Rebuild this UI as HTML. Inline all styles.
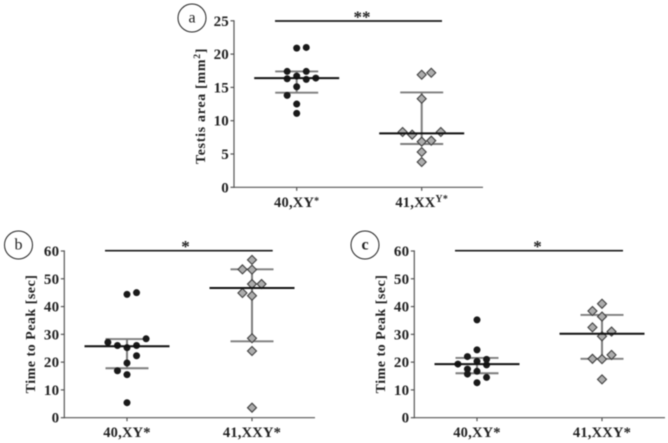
<!DOCTYPE html>
<html>
<head>
<meta charset="utf-8">
<style>
html,body{margin:0;padding:0;background:#fff;}
svg{display:block;font-family:"Liberation Serif",serif;}
</style>
</head>
<body>
<svg id="figure" xmlns="http://www.w3.org/2000/svg" width="668" height="443" viewBox="0 0 668 443">
<g style="filter:blur(0.45px)" id="root"></g>
</svg>
<script>
// Panel a data
const aTicks = [0, 5, 10, 15, 20, 25];
const aControlValues = [20.9, 21, 17.4, 17.4, 16.3, 16.7, 16.2, 16.4, 15.1, 13.8, 12.5, 11.1];
const aControlColumns = [0, 1, -1, 1, -1, 0, 1, 2, 0, -1, 0, 0];
const aControlStats = [14.2, 16.4, 17.4];
const aTreatedValues = [16.9, 17.2, 13.3, 8.3, 7.9, 8.3, 6.85, 7.0, 5.3, 3.8];
const aTreatedColumns = [0, 1, 0, -2, -1, 2, 0, 1, 0, 0];
const aTreatedStats = [6.5, 8.1, 14.25];

// Panel b data
const bTicks = [0, 10, 20, 30, 40, 50, 60];
const bControlValues = [44.4, 45, 28.4, 27.1, 26, 25.2, 26, 22.3, 19.7, 16.9, 15.5, 5.4];
const bControlColumns = [0, 1, 2, -2, -1, 0, 1, 1, 0, -1, 0, 0];
const bControlStats = [17.8, 25.7, 28.3];
const bTreatedValues = [56.8, 53.4, 53.3, 48.1, 48.1, 44.9, 43.9, 28.6, 24, 3.6];
const bTreatedColumns = [0, -1, 0, 0, 1, -1, 0, 0, 0, 0];
const bTreatedStats = [27.5, 46.7, 53.4];

// Panel c data
const cTicks = [0, 10, 20, 30, 40, 50, 60];
const cControlValues = [35.2, 24.4, 22, 20.3, 21, 19.3, 19, 17.5, 16.7, 15.7, 14.5, 12.6];
const cControlColumns = [0, 0, -1, 0, 1, -2, 1, -1, 0, -1, 1, 0];
const cControlStats = [16, 19.3, 21.5];
const cTreatedValues = [41, 38.4, 36.4, 32.5, 31, 29.3, 22.6, 21.2, 21.1, 13.8];
const cTreatedColumns = [0, -1, 0, -1, 1, 0, 1, -1, 0, 0];
const cTreatedStats = [21.2, 30.2, 37];

const NS = 'http://www.w3.org/2000/svg';
const root = document.getElementById('root');

function mk(tag, attrs, parent) {
  const el = document.createElementNS(NS, tag);
  for (const k in attrs) el.setAttribute(k, attrs[k]);
  parent.appendChild(el);
  return el;
}

function drawGroup(g, cx, values, columns, stats, y, kind, name) {
  const colStep = 9.55;
  const grp = mk('g', {}, g);
  
  

  const iqr = mk('line', {x1: cx, x2: cx, y1: y(stats[0]), y2: y(stats[2]), stroke: '#7d7d7d', 'stroke-width': 2}, grp);
  
  

  [stats[0], stats[2]].forEach(function (v) {
    const cap = mk('line', {x1: cx - 21.5, x2: cx + 21.5, y1: y(v), y2: y(v), stroke: '#7d7d7d', 'stroke-width': 1.9}, grp);
    
    
  });

  values.forEach(function (v, i) {
    const px = cx + columns[i] * colStep;
    const py = y(v);
    let pt;
    if (kind === 'circle') {
      pt = mk('circle', {cx: px, cy: py, r: 3.5, fill: '#1a1a1a'}, grp);
    } else {
      const r = 4.5;
      pt = mk('polygon', {points: [px, py - r, px + r, py, px, py + r, px - r, py].join(' '), fill: '#adadad', stroke: '#404040', 'stroke-width': 1.1}, grp);
    }
    
    
  });

  const med = mk('line', {x1: cx - 42.5, x2: cx + 42.5, y1: y(stats[1]), y2: y(stats[1]), stroke: '#111', 'stroke-width': 2}, grp);
  
  
}

function drawPanel(p) {
  const g = mk('g', {}, root);
  
  

  const yMax = p.ticks[p.ticks.length - 1];
  const y = function (v) { return p.y0 - (v / yMax) * (p.y0 - p.yTop); };

  // Panel badge
  const badge = mk('circle', {cx: p.badgeX, cy: p.badgeY, r: 14, fill: '#fff', stroke: '#222', 'stroke-width': 1}, g);
  
  
  const badgeText = mk('text', {x: p.badgeX, y: p.badgeY + 4.5, 'text-anchor': 'middle', 'font-size': 16, fill: '#222', 'font-weight': p.badgeWeight}, g);
  badgeText.textContent = p.id;
  
  

  // Axes
  const yAxis = mk('line', {x1: p.x0, x2: p.x0, y1: y(yMax) - 0.6, y2: p.y0 + 0.6, stroke: '#555', 'stroke-width': 1.2}, g);
  
  
  const xAxis = mk('line', {x1: p.x0, x2: p.xEnd, y1: p.y0, y2: p.y0, stroke: '#555', 'stroke-width': 1.2}, g);
  
  

  p.ticks.forEach(function (t) {
    const tick = mk('line', {x1: p.x0 - 3.5, x2: p.x0, y1: y(t), y2: y(t), stroke: '#555', 'stroke-width': 1.2}, g);
    
    
    const lab = mk('text', {x: p.x0 - 5, y: y(t) + 5, 'text-anchor': 'end', 'font-size': 15, 'font-weight': 'bold', fill: '#222', 'letter-spacing': 0.2}, g);
    lab.textContent = String(t);
    
    
  });

  [p.cx1, p.cx2].forEach(function (cx, i) {
    const tick = mk('line', {x1: cx, x2: cx, y1: p.y0, y2: p.y0 + 3.5, stroke: '#555', 'stroke-width': 1.2}, g);
    
    
    const cat = p.cats[i];
    const lab = mk('text', {x: cx, y: p.y0 + 19.5, 'text-anchor': 'middle', 'font-size': 14.5, 'font-weight': 'bold', fill: '#222', 'letter-spacing': 0.2}, g);
    
    
    lab.appendChild(document.createTextNode(cat[0]));
    if (cat[1]) {
      const sup = mk('tspan', {dy: cat[2], 'font-size': 10}, lab);
      sup.textContent = cat[1];
    }
  });

  // Y title
  const title = mk('text', {transform: 'translate(' + p.titleX + ',' + p.titleY + ') rotate(-90)', 'text-anchor': 'middle', 'font-size': 14, 'font-weight': 'bold', fill: '#222', 'letter-spacing': p.titleSpacing}, g);
  
  
  title.appendChild(document.createTextNode(p.title));
  if (p.titleSup) {
    const s = mk('tspan', {dy: -5, 'font-size': 9.5}, title);
    s.textContent = p.titleSup;
    const e = mk('tspan', {dy: 5}, title);
    e.textContent = p.titleEnd;
  }

  // Significance
  const bar = mk('line', {x1: p.sigX1, x2: p.sigX2, y1: p.sigY, y2: p.sigY, stroke: '#1a1a1a', 'stroke-width': 1.7}, g);
  
  
  const star = mk('text', {x: p.starX, y: p.sigY + 1.5, 'text-anchor': 'middle', 'font-size': 17, 'font-weight': 'bold', fill: '#222'}, g);
  star.textContent = p.stars;
  
  

  drawGroup(g, p.cx1, p.controlValues, p.controlColumns, p.controlStats, y, 'circle', 'panel-' + p.id + '-control');
  drawGroup(g, p.cx2, p.treatedValues, p.treatedColumns, p.treatedStats, y, 'diamond', 'panel-' + p.id + '-treated');
}

drawPanel({
  id: 'a', ticks: aTicks, x0: 234, xEnd: 483, y0: 187.3, yTop: 20.8, cx1: 296.7, cx2: 421.7,
  cats: [['40,XY', '*', -3], ['41,XX', 'Y*', -5]],
  title: 'Testis area [mm', titleSup: '2', titleEnd: ']', titleX: 205, titleY: 106, titleSpacing: 0.7,
  badgeX: 192, badgeY: 18, badgeWeight: 'normal', sigX1: 275, sigX2: 442, sigY: 21, starX: 362, stars: '**',
  controlValues: aControlValues, controlColumns: aControlColumns, controlStats: aControlStats,
  treatedValues: aTreatedValues, treatedColumns: aTreatedColumns, treatedStats: aTreatedStats
});
drawPanel({
  id: 'b', ticks: bTicks, x0: 64.3, xEnd: 315, y0: 417.7, yTop: 251, cx1: 127, cx2: 252,
  cats: [['40,XY*'], ['41,XXY*']],
  title: 'Time to Peak [sec]', titleX: 35, titleY: 334, titleSpacing: 0.5,
  badgeX: 18.5, badgeY: 245, badgeWeight: 'normal', sigX1: 105, sigX2: 272.7, sigY: 250.7, starX: 185.5, stars: '*',
  controlValues: bControlValues, controlColumns: bControlColumns, controlStats: bControlStats,
  treatedValues: bTreatedValues, treatedColumns: bTreatedColumns, treatedStats: bTreatedStats
});
drawPanel({
  id: 'c', ticks: cTicks, x0: 414.3, xEnd: 665, y0: 417.7, yTop: 251, cx1: 477, cx2: 602,
  cats: [['40,XY*'], ['41,XXY*']],
  title: 'Time to Peak [sec]', titleX: 385, titleY: 334, titleSpacing: 0.5,
  badgeX: 365, badgeY: 245, badgeWeight: 'bold', sigX1: 455, sigX2: 623, sigY: 250.7, starX: 537.5, stars: '*',
  controlValues: cControlValues, controlColumns: cControlColumns, controlStats: cControlStats,
  treatedValues: cTreatedValues, treatedColumns: cTreatedColumns, treatedStats: cTreatedStats
});
</script>
</body>
</html>
